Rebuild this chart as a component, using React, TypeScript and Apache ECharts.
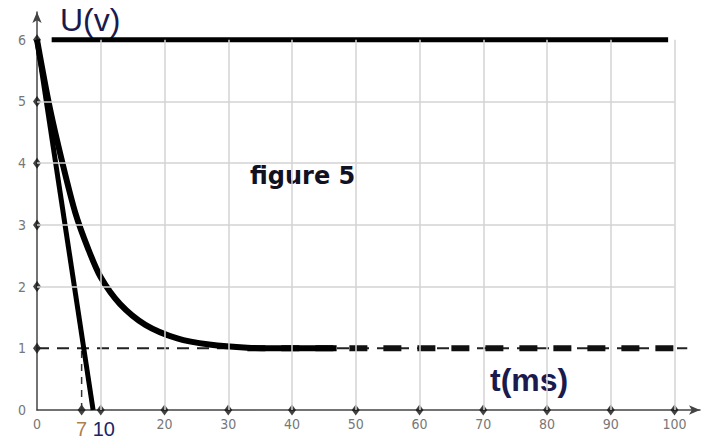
import React, { useEffect, useRef } from "react";
import * as echarts from "echarts";

const tTicks = [0, 10, 20, 30, 40, 50, 60, 70, 80, 90, 100];
const uTicks = [0, 1, 2, 3, 4, 5, 6];
const gridT = [10, 20, 30, 40, 50, 60, 70, 80, 90, 100];
const gridU = [2, 3, 4, 5];

const curveT = [0, 2, 4, 6, 8, 10, 13, 17, 22, 27, 33, 40, 47];
const curveU = [6, 4.9, 4.0, 3.2, 2.62, 2.15, 1.72, 1.38, 1.16, 1.06, 1.01, 1.0, 1.0];

const tangentT = [0, 8.8];
const tangentU = [6, 0];

const topT = [2.3, 99];
const topU = [6, 6];

const finalU = 1;
const dashThinT = [0, 102];
const dashThickT = [33, 100];
const tau = 7;

export default function App() {
  const ref = useRef<HTMLDivElement>(null);
  useEffect(() => {
    if (!ref.current) return;
    const chart = echarts.init(ref.current, null, { renderer: "svg" });
    const tickFont = "'DejaVu Sans Condensed', 'Liberation Sans Narrow', sans-serif";
    const diamonds = [
      ...uTicks.slice(1).map((u) => [0, u]),
      [tau, 0],
      ...gridT.map((t) => [t, 0]),
    ];
    chart.setOption({
      animation: false,
      backgroundColor: "#ffffff",
      grid: { left: 37, right: 19, top: 12, bottom: 26, containLabel: false },
      xAxis: {
        type: "value",
        min: 0,
        max: 104,
        interval: 10,
        splitLine: { show: false },
        axisTick: { show: false },
        axisLine: {
          show: true,
          symbol: ["none", "arrow"],
          symbolSize: [7, 11],
          lineStyle: { color: "#444", width: 1.5 },
        },
        axisLabel: {
          showMaxLabel: false,
          margin: 7,
          color: "#777",
          fontSize: 14,
          fontFamily: tickFont,
          formatter: (v: number) =>
            tTicks.includes(v) ? (v === 10 ? "{big|10}" : String(v)) : "",
          rich: {
            big: {
              fontSize: 20,
              color: "#1c2566",
              fontFamily: "'Liberation Sans', Arial, sans-serif",
              padding: [2, 0, 0, 6],
            },
          },
        },
      },
      yAxis: {
        type: "value",
        min: 0,
        max: 6.45,
        interval: 1,
        splitLine: { show: false },
        axisTick: { show: false },
        axisLine: {
          show: true,
          symbol: ["none", "arrow"],
          symbolSize: [7, 11],
          lineStyle: { color: "#444", width: 1.5 },
        },
        axisLabel: {
          showMaxLabel: false,
          margin: 11,
          color: "#777",
          fontSize: 14,
          fontFamily: tickFont,
          formatter: (v: number) => (uTicks.includes(v) ? String(v) : ""),
        },
      },
      series: [
        {
          type: "line",
          data: [[0, 0]],
          symbol: "none",
          lineStyle: { opacity: 0 },
          silent: true,
          markLine: {
            silent: true,
            symbol: "none",
            label: { show: false },
            lineStyle: { color: "#d3d3d3", width: 1.5, type: "solid" },
            data: [
              ...gridT.map((t) => [{ coord: [t, 0] }, { coord: [t, 6] }]),
              ...gridU.map((u) => [{ coord: [0, u] }, { coord: [100, u] }]),
            ],
          },
        },
        {
          type: "line",
          data: dashThinT.map((t) => [t, finalU]),
          symbol: "none",
          lineStyle: { color: "#222", width: 2, type: [12, 8] },
        },
        {
          type: "line",
          data: dashThickT.map((t) => [t, finalU]),
          symbol: "none",
          lineStyle: { color: "#111", width: 6, type: [18, 16] },
        },
        {
          type: "line",
          data: [
            [tau, 0],
            [tau, finalU],
          ],
          symbol: "none",
          lineStyle: { color: "#333", width: 1.5, type: [7, 6] },
        },
        {
          type: "line",
          data: topT.map((t, i) => [t, topU[i]]),
          symbol: "none",
          lineStyle: { color: "#000", width: 5, cap: "butt" },
        },
        {
          type: "line",
          data: tangentT.map((t, i) => [t, tangentU[i]]),
          symbol: "none",
          lineStyle: { color: "#000", width: 5 },
        },
        {
          type: "line",
          data: curveT.map((t, i) => [t, curveU[i]]),
          symbol: "none",
          smooth: 0.3,
          lineStyle: { color: "#000", width: 6, join: "round" },
        },
        {
          type: "scatter",
          data: diamonds,
          symbol: "diamond",
          symbolSize: [8, 11],
          clip: false,
          itemStyle: { color: "#111" },
          silent: true,
        },
        {
          type: "scatter",
          data: [[tau, 0]],
          symbolSize: 0,
          clip: false,
          silent: true,
          label: {
            show: true,
            position: "bottom",
            distance: 9,
            formatter: String(tau),
            fontSize: 20,
            color: "#9a5a1c",
            fontFamily: "'Liberation Sans', Arial, sans-serif",
          },
        },
      ],
      graphic: [
        {
          type: "text",
          left: 60,
          top: 4,
          style: {
            text: "U(v)",
            fontSize: 32,
            fill: "#1a1a4e",
            fontFamily: "'Liberation Sans', Arial, sans-serif",
          },
        },
        {
          type: "text",
          left: 250,
          top: 164,
          style: {
            text: "figure 5",
            fontSize: 24,
            fontWeight: "bold",
            fill: "#111122",
            fontFamily: "'DejaVu Sans', sans-serif",
          },
        },
        {
          type: "text",
          left: 490,
          top: 364,
          style: {
            text: "t(ms)",
            fontSize: 32,
            fontWeight: "bold",
            fill: "#1a1a4e",
            fontFamily: "'Liberation Sans', Arial, sans-serif",
          },
        },
      ],
    });
    return () => chart.dispose();
  }, []);
  return <div ref={ref} style={{ width: 719, height: 439, position: "absolute", left: 0, top: 0 }} />;
}
